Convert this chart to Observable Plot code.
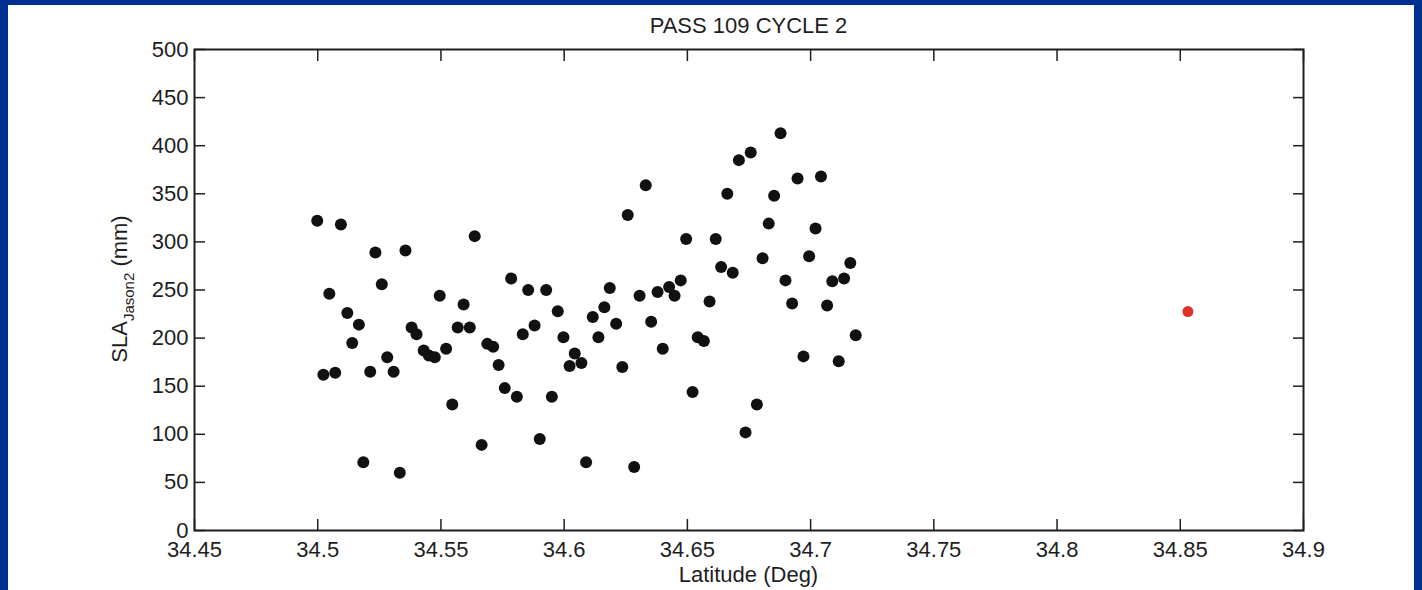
<!DOCTYPE html>
<html>
<head>
<meta charset="utf-8">
<script src="https://cdn.jsdelivr.net/npm/d3@7"></script>
<script src="https://cdn.jsdelivr.net/npm/@observablehq/plot@0.6"></script>
<style>
  html, body { margin: 0; padding: 0; }
  body { width: 1422px; height: 590px; overflow: hidden; background: #00308f; position: relative; font-family: "Liberation Sans", Arial, sans-serif; }
  #panel { position: absolute; left: 8px; top: 5px; width: 1406px; height: 590px; background: #ffffff; }
  #panel svg { position: absolute; left: 0; top: 0; background: transparent; }
</style>
</head>
<body>
<div id="panel"></div>
<script>
const titleText = "PASS 109 CYCLE 2";
const xLabelText = "Latitude (Deg)";
const yLabelMain = "SLA";
const yLabelSub = "Jason2";
const yLabelUnit = " (mm)";

const xTicks = [34.45, 34.5, 34.55, 34.6, 34.65, 34.7, 34.75, 34.8, 34.85, 34.9];
const yTicks = [0, 50, 100, 150, 200, 250, 300, 350, 400, 450, 500];

// Black series (Jason-2 SLA along track)
const latitude = [
  34.4998, 34.5023, 34.5047, 34.5071, 34.5094, 34.5120, 34.5140, 34.5167, 34.5185, 34.5213,
  34.5234, 34.5260, 34.5282, 34.5308, 34.5333, 34.5356, 34.5381, 34.5401, 34.5430, 34.5451,
  34.5475, 34.5495, 34.5521, 34.5546, 34.5568, 34.5592, 34.5617, 34.5637, 34.5665, 34.5688,
  34.5712, 34.5734, 34.5759, 34.5785, 34.5808, 34.5832, 34.5854, 34.5880, 34.5901, 34.5927,
  34.5950, 34.5974, 34.5997, 34.6022, 34.6043, 34.6070, 34.6089, 34.6116, 34.6139, 34.6163,
  34.6185, 34.6211, 34.6236, 34.6258, 34.6284, 34.6306, 34.6331, 34.6353, 34.6379, 34.6400,
  34.6426, 34.6448, 34.6473, 34.6495, 34.6521, 34.6542, 34.6567, 34.6590, 34.6615, 34.6637,
  34.6662, 34.6684, 34.6709, 34.6736, 34.6757, 34.6782, 34.6805, 34.6830, 34.6852, 34.6878,
  34.6898, 34.6925, 34.6947, 34.6971, 34.6994, 34.7020, 34.7042, 34.7067, 34.7088, 34.7114,
  34.7136, 34.7161, 34.7183
];
const sla = [
  322, 162, 246, 164, 318, 226, 195, 214, 71, 165,
  289, 256, 180, 165, 60, 291, 211, 204, 187, 182,
  180, 244, 189, 131, 211, 235, 211, 306, 89, 194,
  191, 172, 148, 262, 139, 204, 250, 213, 95, 250,
  139, 228, 201, 171, 184, 174, 71, 222, 201, 232,
  252, 215, 170, 328, 66, 244, 359, 217, 248, 189,
  253, 244, 260, 303, 144, 201, 197, 238, 303, 274,
  350, 268, 385, 102, 393, 131, 283, 319, 348, 413,
  260, 236, 366, 181, 285, 314, 368, 234, 259, 176,
  262, 278, 203
];

// Red point
const redLatitude = [34.8531];
const redSla = [227.6];

const blackData = latitude.map((x, i) => ({x, y: sla[i]}));
const redData = redLatitude.map((x, i) => ({x, y: redSla[i]}));

const W = 1406, H = 585;
const FONT = 22;
const ink = "#1e1e1e";

const chart = Plot.plot({
  width: W,
  height: H,
  marginLeft: 186,
  marginRight: 111,
  marginTop: 44,
  marginBottom: 60,
  style: {background: "transparent", fontFamily: "'Liberation Sans', Arial, sans-serif", fontSize: FONT + "px", color: ink},
  x: {domain: [34.45, 34.9]},
  y: {domain: [0, 500]},
  marks: [
    Plot.axisX({anchor: "bottom", ticks: xTicks, tickSize: -11, tickPadding: 22, strokeWidth: 1.5, stroke: ink, fill: ink,
      tickFormat: d => String(+d.toFixed(2)), label: null, fontSize: FONT}),
    Plot.axisX({anchor: "top", ticks: xTicks, tickSize: -11, text: null, label: null, strokeWidth: 1.5, stroke: ink}),
    Plot.axisY({anchor: "left", ticks: yTicks, tickSize: -11, tickPadding: 17, strokeWidth: 1.5, stroke: ink, fill: ink,
      tickFormat: d => String(d), label: null, fontSize: FONT}),
    Plot.axisY({anchor: "right", ticks: yTicks, tickSize: -11, text: null, label: null, strokeWidth: 1.5, stroke: ink}),
    Plot.frame({stroke: ink, strokeWidth: 2}),
    Plot.dot(blackData, {x: "x", y: "y", r: 6, fill: "#111111", stroke: null}),
    Plot.dot(redData, {x: "x", y: "y", r: 5.5, fill: "#e0302a", stroke: null})
  ]
});

document.getElementById("panel").appendChild(chart);

const svg = d3.select(chart);
const cx = 186 + (W - 186 - 111) / 2;

svg.append("text")
  .attr("x", cx).attr("y", 28)
  .attr("text-anchor", "middle")
  .attr("font-size", FONT).attr("fill", ink)
  .text(titleText);

svg.append("text")
  .attr("x", cx).attr("y", 577)
  .attr("text-anchor", "middle")
  .attr("font-size", FONT).attr("fill", ink)
  .text(xLabelText);

const yl = svg.append("text")
  .attr("transform", "translate(119,284) rotate(-90)")
  .attr("text-anchor", "middle")
  .attr("font-size", FONT).attr("fill", ink);
yl.append("tspan").text(yLabelMain);
yl.append("tspan").attr("font-size", 15).attr("dy", 7).text(yLabelSub);
yl.append("tspan").attr("dy", -7).text(yLabelUnit);
</script>
</body>
</html>
